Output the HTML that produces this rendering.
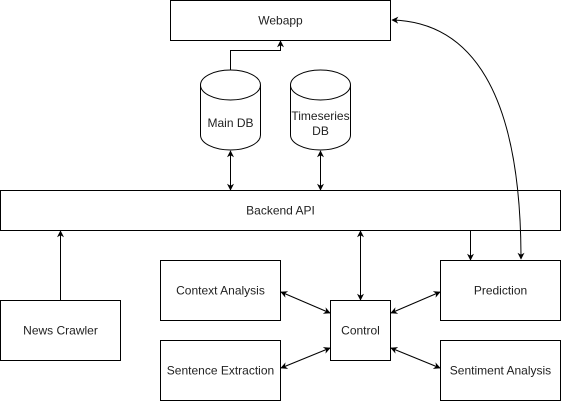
<!DOCTYPE html>
<html><head><meta charset="utf-8"><style>
html,body{margin:0;padding:0;background:#fff;}
svg{display:block;}
text{font-family:"Liberation Sans",Arial,sans-serif;font-size:12px;fill:#222;text-anchor:middle;dominant-baseline:central;}
</style></head><body>
<svg width="562" height="402" viewBox="0 0 562 402" xmlns="http://www.w3.org/2000/svg">
<defs>
<marker id="a" viewBox="0 0 10 10" refX="9" refY="5" markerWidth="7" markerHeight="7" orient="auto-start-reverse" markerUnits="userSpaceOnUse">
<path d="M0,0 L10,5 L0,10 L3,5 z" fill="#000"/>
</marker>
</defs>
<g fill="#fff" stroke="#000" stroke-width="1">
<rect x="170.5" y="0.5" width="220" height="40"/>
<rect x="0.5" y="190.5" width="560" height="40"/>
<rect x="0.5" y="300.5" width="120" height="60"/>
<rect x="160.5" y="260.5" width="120" height="60"/>
<rect x="160.5" y="340.5" width="120" height="60"/>
<rect x="330.5" y="300.5" width="60" height="60"/>
<rect x="440.5" y="260.5" width="120" height="60"/>
<rect x="440.5" y="340.5" width="120" height="60"/>
<!-- cylinders -->
<path d="M200.5,85 A30,15 0 0 1 260.5,85 L260.5,135 A30,15 0 0 1 200.5,135 Z"/>
<path d="M200.5,85 A30,15 0 0 0 260.5,85"/>
<path d="M290.5,85 A30,15 0 0 1 350.5,85 L350.5,135 A30,15 0 0 1 290.5,135 Z"/>
<path d="M290.5,85 A30,15 0 0 0 350.5,85"/>
</g>
<g fill="none" stroke="#000" stroke-width="1">
<path d="M230.5,70 L230.5,50.5 L280.5,50.5 L280.5,41" marker-end="url(#a)"/>
<path d="M230.5,151 L230.5,190" marker-start="url(#a)" marker-end="url(#a)"/>
<path d="M320.5,151 L320.5,190" marker-start="url(#a)" marker-end="url(#a)"/>
<path d="M60.5,300 L60.5,231" marker-end="url(#a)"/>
<path d="M360.5,231 L360.5,300" marker-start="url(#a)" marker-end="url(#a)"/>
<path d="M470.5,231 L470.5,260" marker-end="url(#a)"/>
<path d="M392,20 C470,22 521,90 521,259" marker-start="url(#a)" marker-end="url(#a)"/>
<path d="M281,292 L330,313" marker-start="url(#a)" marker-end="url(#a)"/>
<path d="M281,368 L330,348" marker-start="url(#a)" marker-end="url(#a)"/>
<path d="M391,313 L440,292" marker-start="url(#a)" marker-end="url(#a)"/>
<path d="M391,348 L440,368" marker-start="url(#a)" marker-end="url(#a)"/>
</g>
<text x="280.5" y="20.5">Webapp</text>
<text x="230.5" y="123">Main DB</text>
<text x="320.5" y="116">Timeseries</text>
<text x="320.5" y="131">DB</text>
<text x="280.5" y="210.5">Backend API</text>
<text x="60.5" y="330.5">News Crawler</text>
<text x="220.5" y="290.5">Context Analysis</text>
<text x="220.5" y="370.5">Sentence Extraction</text>
<text x="360.5" y="330.5">Control</text>
<text x="500.5" y="290.5">Prediction</text>
<text x="500.5" y="370.5">Sentiment Analysis</text>
</svg>
</body></html>
